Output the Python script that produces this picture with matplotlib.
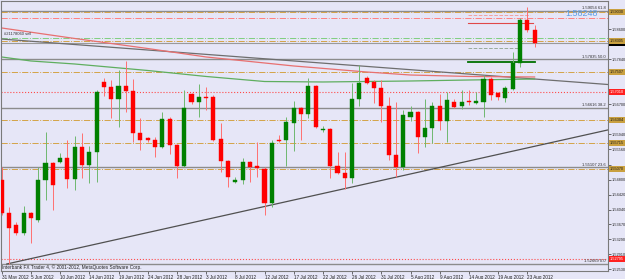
import matplotlib
matplotlib.use("Agg")
import matplotlib.pyplot as plt
from matplotlib.patches import Rectangle
from matplotlib.transforms import blended_transform_factory

plt.rcParams['font.family'] = ['Liberation Sans', 'DejaVu Sans']

# GBPUSD daily bars, 31 May 2012 .. 24 Aug 2012 (broker has Sunday bars)
opens = [1.54789, 1.53956, 1.53653, 1.53451, 1.53956, 1.53780, 1.54789, 1.55218, 1.55243, 1.55344,
         1.54814, 1.55622, 1.55168, 1.55496, 1.57263, 1.57136, 1.56834, 1.57162, 1.57036, 1.55975,
         1.55849, 1.55799, 1.55622, 1.56329, 1.55673, 1.55143, 1.56960, 1.56758, 1.56884, 1.56884,
         1.55824, 1.55269, 1.54739, 1.54789, 1.55243, 1.55143, 1.55067, 1.54209, 1.55799, 1.55799,
         1.56228, 1.56606, 1.56455, 1.57162, 1.56051, 1.56076, 1.55143, 1.54966, 1.54840, 1.56834,
         1.57364, 1.57263, 1.57111, 1.56657, 1.55420, 1.55117, 1.56379, 1.56505, 1.55874, 1.56102,
         1.56657, 1.56278, 1.56758, 1.56657, 1.56783, 1.56733, 1.56758, 1.57338, 1.56985, 1.56859,
         1.57086, 1.57742, 1.58828, 1.58575]
highs = [1.55117, 1.54108, 1.53729, 1.54133, 1.53981, 1.55117, 1.56001, 1.55243, 1.55471, 1.55799,
         1.55900, 1.55975, 1.55647, 1.57061, 1.57364, 1.57313, 1.57566, 1.57793, 1.57338, 1.56354,
         1.55874, 1.55874, 1.56505, 1.56379, 1.55700, 1.57061, 1.56980, 1.57212, 1.57136, 1.56935,
         1.56228, 1.55290, 1.54865, 1.55344, 1.55269, 1.55748, 1.55117, 1.55799, 1.55925, 1.56379,
         1.56783, 1.56631, 1.57364, 1.57187, 1.56152, 1.56102, 1.55496, 1.55496, 1.57237, 1.57692,
         1.57414, 1.57313, 1.57313, 1.56884, 1.56758, 1.56556, 1.56657, 1.56531, 1.56834, 1.56758,
         1.56960, 1.57010, 1.56834, 1.57061, 1.57061, 1.57010, 1.57439, 1.57389, 1.57010, 1.57162,
         1.58020, 1.58878, 1.59156, 1.58701]
lows = [1.53906, 1.52669, 1.53401, 1.53401, 1.53199, 1.53729, 1.54284, 1.54032, 1.55218, 1.54587,
        1.54537, 1.54840, 1.54713, 1.54739, 1.56909, 1.56354, 1.56127, 1.56505, 1.55748, 1.55546,
        1.55748, 1.55370, 1.55600, 1.55445, 1.54840, 1.55117, 1.56707, 1.56379, 1.56556, 1.55774,
        1.54991, 1.54612, 1.54713, 1.54688, 1.54739, 1.54865, 1.53906, 1.54108, 1.55748, 1.55143,
        1.55521, 1.55799, 1.56354, 1.56102, 1.56001, 1.54840, 1.54941, 1.54562, 1.54713, 1.56657,
        1.57212, 1.56733, 1.56253, 1.55294, 1.54865, 1.55042, 1.56278, 1.55471, 1.55622, 1.55723,
        1.56051, 1.55748, 1.56606, 1.56581, 1.56682, 1.56707, 1.56379, 1.56808, 1.56808, 1.56758,
        1.57061, 1.57641, 1.58525, 1.58146]
closes = [1.53956, 1.53578, 1.53451, 1.53956, 1.53830, 1.54789, 1.55218, 1.54663, 1.55344, 1.54814,
          1.55622, 1.55168, 1.55496, 1.57010, 1.57136, 1.56834, 1.57162, 1.57036, 1.55975, 1.55799,
          1.55799, 1.55622, 1.56329, 1.55673, 1.55143, 1.56606, 1.56758, 1.56884, 1.56859, 1.55799,
          1.55269, 1.54865, 1.54789, 1.55243, 1.55117, 1.55092, 1.54209, 1.55723, 1.55774, 1.56253,
          1.56606, 1.56455, 1.57162, 1.56127, 1.56076, 1.55143, 1.54966, 1.54840, 1.56834, 1.57237,
          1.57237, 1.57111, 1.56657, 1.55420, 1.55117, 1.56430, 1.56505, 1.55874, 1.56102, 1.56657,
          1.56278, 1.56808, 1.56632, 1.56758, 1.56758, 1.56783, 1.57338, 1.56935, 1.56884, 1.57111,
          1.57742, 1.58828, 1.58575, 1.58248]

date_labels = ['31 May 2012', '5 Jun 2012', '10 Jun 2012', '14 Jun 2012', '19 Jun 2012',
               '24 Jun 2012', '28 Jun 2012', '3 Jul 2012', '8 Jul 2012', '12 Jul 2012',
               '17 Jul 2012', '22 Jul 2012', '26 Jul 2012', '31 Jul 2012', '5 Aug 2012',
               '9 Aug 2012', '14 Aug 2012', '19 Aug 2012', '23 Aug 2012']
date_bars = list(range(0, 73, 4))

price_ticks = [1.52530, 1.52910, 1.53290, 1.53670, 1.54040, 1.54420, 1.54800, 1.55180, 1.55560,
               1.55940, 1.56320, 1.56700, 1.57080, 1.57460, 1.57840, 1.58220, 1.58600, 1.58980]

# moving averages, read at a few bars
ma_red_bars = [0, 10, 20, 28, 40, 50, 56, 64, 73]
ma_red = [1.58626, 1.58361, 1.58108, 1.57894, 1.57667, 1.57515, 1.57439, 1.57402, 1.57389]
ma_green_bars = [0, 4, 10, 20, 28, 36, 44, 56, 64, 73]
ma_green = [1.57894, 1.57793, 1.57717, 1.57553, 1.57402, 1.57275, 1.57263, 1.57288, 1.57313, 1.57338]

# trendlines (two anchor points each)
trend_down = ([-0.1, 83.0], [1.58348, 1.57200])
trend_up = ([0.7, 83.0], [1.52669, 1.56051])

# fibonacci 1.52669 -> 1.63001
fib_levels = [1.59054, 1.57835, 1.56616, 1.55107, 1.52669]
fib_pcts = ['61.8', '50.0', '38.2', '23.6', '0.0']

bid = 1.58248
order_line = 1.58381
order_label = '#21178060 sell'
stop_line = 1.58878
orange_levels = [1.59030, 1.58305, 1.57507, 1.56304, 1.55715, 1.55070]
red_dotted_levels = [1.57010, 1.52795]

# short projection segments near the last bars
seg_levels = [1.58954, 1.58752, 1.58121, 1.57767]
seg_ends = [72.4, 72.8, 70.7, 73.05]

BG = '#E6E6F7'
W, H = 625, 279

fig = plt.figure(figsize=(W / 100, H / 100), dpi=100, facecolor=BG)
ax = fig.add_axes([1 / W, (H - 271) / H, 606.7 / W, 270 / H], facecolor=BG)
ax.set_xlim(-0.096, 83.01)
ax.set_ylim(1.52492, 1.59307)
px_per_unit = 270 / (1.59307 - 1.52492)

# full width horizontal objects
for lv in fib_levels:
    ax.axhline(lv, color='#8c8c8c', lw=1.0, zorder=1)
ax.axhline(bid, color='#9a9a9a', lw=0.8, zorder=1)
for lv in orange_levels:
    ax.axhline(lv, color='#d4a347', lw=0.7, ls='-.', zorder=1.2)
ax.axhline(order_line, color='#7fcf7f', lw=0.7, ls='-.', zorder=1.2)
ax.axhline(stop_line, color='#ff8080', lw=0.7, ls='-.', zorder=1.2)
for lv in red_dotted_levels:
    ax.axhline(lv, color='#ff4a4a', lw=0.8, ls=':', zorder=1.2)

# trendlines and MAs
ax.plot(*trend_down, color='#6e6e6e', lw=0.9, zorder=1.5)
ax.plot(*trend_up, color='#505050', lw=0.9, zorder=1.5)
ax.plot(ma_red_bars, ma_red, color='#e87070', lw=0.9, zorder=1.6)
ax.plot(ma_green_bars, ma_green, color='#5fae5f', lw=0.9, zorder=1.6)

# short segments
seg_styles = [dict(color='#f2a0a0', ls='--', lw=0.7), dict(color='#e04848', ls='-', lw=0.8),
              dict(color='#9aac9a', ls='--', lw=0.7), dict(color='#007000', ls='-', lw=1.3)]
for lv, end, st in zip(seg_levels, seg_ends, seg_styles):
    ax.plot([63.9, end], [lv, lv], zorder=1.7, **st)

# candles
idx = list(range(len(opens)))
up = [c >= o for o, c in zip(opens, closes)]
wick_cols = ['#6fb86f' if u else '#ff7070' for u in up]
body_cols = ['#008000' if u else '#ff0000' for u in up]
ax.vlines(idx, lows, highs, colors=wick_cols, lw=0.7, zorder=2)
bottoms = [min(o, c) for o, c in zip(opens, closes)]
heights = [max(abs(c - o), 0.00004) for o, c in zip(opens, closes)]
ax.bar(idx, heights, bottom=bottoms, width=0.56, color=body_cols,
       edgecolor=body_cols, linewidth=0.3, zorder=3)

# price boxes on the right scale (they hide the scale labels behind them)
boxes = [(lv, '#c9a040', '#1a1a1a') for lv in orange_levels]
boxes += [(lv, '#ff2020', '#ffffff') for lv in red_dotted_levels]
hidden = [t for t in price_ticks
          if any(abs(t - b[0]) * px_per_unit < 4.5 for b in boxes + [(bid,)])]

# axes styling
for sp in ax.spines.values():
    sp.set_color('#7a7a7a')
    sp.set_linewidth(0.8)
ax.yaxis.tick_right()
ax.set_yticks(price_ticks)
ax.set_yticklabels(['' if t in hidden else f'{t:.5f}' for t in price_ticks])
ax.tick_params(axis='y', length=2, width=0.5, labelsize=2.8, pad=1,
               colors='#333333', labelcolor='#222222')
ax.set_xticks(date_bars)
ax.set_xticklabels(date_labels, ha='left')
ax.tick_params(axis='x', length=2, width=0.5, labelsize=3.3, pad=1,
               colors='#333333', labelcolor='#222222')

# fib labels
for lv, pct in zip(fib_levels, fib_pcts):
    ax.text(82.7, lv + 0.0002, f'{lv:.5f} {pct}', ha='right', va='bottom',
            fontsize=3.0, color='#303030', zorder=4)

tr = blended_transform_factory(ax.transAxes, ax.transData)
# bid marker mostly hidden under the gold box above it
bh = 5.5 / px_per_unit
ax.add_patch(Rectangle((1.002, bid - bh / 2), 0.027, bh, transform=tr,
                       fc='#000000', ec='none', clip_on=False, zorder=4.5))
for lv, fc, tc in boxes:
    ax.text(1.004, lv, f'{lv:.5f}', transform=tr, ha='left', va='center',
            fontsize=2.8, color=tc, clip_on=False, zorder=5,
            bbox=dict(boxstyle='square,pad=0.22', fc=fc, ec=fc, lw=0))

# order label
ax.text(0.3, order_line + 0.00035, order_label, ha='left', va='bottom',
        fontsize=3.0, color='#333333', zorder=4)

# big bid text and copyright
fig.text(598 / W, 1 - 14 / H, f'{bid:.5f}', ha='right', va='center',
         fontsize=6.4, color='#5b9fe6')
fig.text(2 / W, 1 - 267.5 / H, 'Interbank FX Trader 4, \u00a9 2001-2012, MetaQuotes Software Corp.',
         ha='left', va='center', fontsize=3.4, color='#222222')

fig.savefig('out.png', dpi=100, facecolor=BG)
